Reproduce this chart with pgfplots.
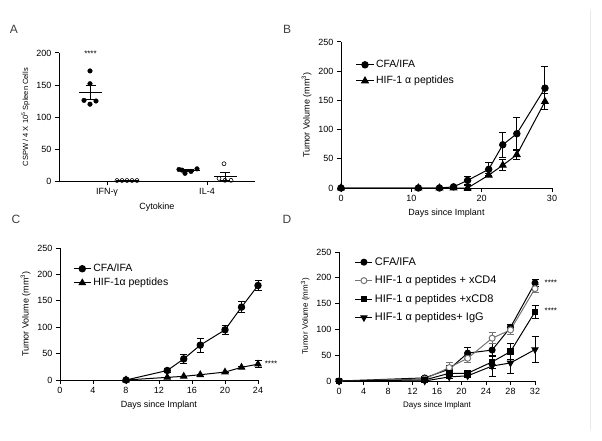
\documentclass[border=0pt]{standalone}
\usepackage{fontspec}
\setmainfont{Liberation Sans}
\usepackage{pgfplots}
\pgfplotsset{compat=1.18}

\pgfplotsset{
  prism/.style={
    scale only axis,
    axis lines=left,
    axis line style={-, line width=1pt},
    tick align=outside,
    major tick length=4pt,
    tick style={black, line width=1pt},
    tick label style={font=\fontsize{9}{10}\selectfont},
    label style={font=\fontsize{9}{10}\selectfont},
    /pgf/number format/assume math mode=true,
    clip=false,
    legend style={draw=none, fill=none, font=\fontsize{10.5}{12}\selectfont,
      row sep=3pt, inner sep=0pt},
    legend cell align=left,
  },
  grp/.style={black, line width=1pt, mark size=3.2pt,
    error bars/y dir=both, error bars/y explicit,
    error bars/error bar style={line width=1pt, solid},
    error bars/error mark options={rotate=90, mark size=3.5pt, line width=1pt, solid}},
}

\begin{document}
\begin{tikzpicture}
\path[use as bounding box] (0pt,0pt) rectangle (602pt,440pt);
\draw[black!8, line width=0.8pt] (590pt,10pt) -- (590pt,430pt);

% panel letters
\node[font=\fontsize{12}{12}\selectfont, text=black!75] at (14pt,411pt) {A};
\node[font=\fontsize{12}{12}\selectfont, text=black!75] at (287pt,411pt) {B};
\node[font=\fontsize{12}{12}\selectfont, text=black!75] at (16pt,221pt) {C};
\node[font=\fontsize{12}{12}\selectfont, text=black!75] at (287pt,221pt) {D};

% ---------- A
\begin{axis}[prism, at={(59pt,259pt)}, anchor=south west, width=196pt, height=128pt,
  xmin=0.52, xmax=2.48, ymin=0, ymax=200, ytick={0,50,...,200},
  xtick={1,2}, xticklabels={IFN-γ, IL-4},
  xlabel={Cytokine},
  ylabel={CSPW / 4 X 10\textsuperscript{5} Spleen Cells},
  ylabel style={font=\fontsize{7.5}{8}\selectfont},
]
\addplot[only marks, mark=*, mark size=2.3pt, black] coordinates {
  (0.83,172) (0.83,152) (0.77,126) (0.83,120) (0.89,125)};
\addplot[only marks, mark=o, mark size=2pt, black, line width=0.6pt] coordinates {
  (1.10,0.8) (1.15,0.8) (1.20,0.8) (1.25,0.8) (1.30,0.8)};
\addplot[only marks, mark=*, mark size=2.3pt, black] coordinates {
  (1.72,18) (1.78,12) (1.84,15) (1.90,19) (1.75,17)};
\addplot[only marks, mark=o, mark size=2pt, black, line width=0.6pt] coordinates {
  (2.17,27) (2.12,4) (2.18,1) (2.24,1)};
% means with SEM
\addplot[grp, only marks, mark=-, mark size=11.5pt,
  error bars/error mark options={rotate=90, mark size=5pt, line width=1pt}] coordinates {
  (0.835,138.6) +- (0,11)
  (1.815,16.2) +- (0,1.4)
  (2.18,7.3) +- (0,6.5)
  (1.20,0.5) +- (0,0)};
\node[font=\fontsize{8}{8}\selectfont] at (axis cs:0.835,199) {****};
\end{axis}

% ---------- B
\begin{axis}[prism, at={(341pt,252pt)}, anchor=south west, width=211pt, height=146pt,
  xmin=0, xmax=30, ymin=0, ymax=250, xtick={0,10,20,30}, ytick={0,50,...,250},
  xlabel={Days since Implant}, ylabel={Tumor Volume (mm\textsuperscript{3})},
  legend style={at={(0.07,0.89)}, anchor=north west}]
\addplot[grp, mark=*] coordinates {
  (0,0) +- (0,0) (11,0) +- (0,0) (14,0) +- (0,0) (16,2) +- (0,1)
  (18,13) +- (0,7) (21,32) +- (0,11) (23,74) +- (0,21) (25,93) +- (0,28)
  (29,171) +- (0,37)};
\addlegendentry{CFA/IFA}
\addplot[grp, mark=triangle*, mark size=3.8pt] coordinates {
  (0,0) +- (0,0) (11,0) +- (0,0) (14,0) +- (0,0) (16,0) +- (0,0)
  (18,0) +- (0,5) (21,22) +- (0,3) (23,39) +- (0,9) (25,57) +- (0,9)
  (29,148) +- (0,14)};
\addlegendentry{HIF-1 α peptides}
\end{axis}

% ---------- C
\begin{axis}[prism, at={(60pt,60pt)}, anchor=south west, width=198pt, height=132pt,
  xmin=0, xmax=24, ymin=0, ymax=250, xtick={0,4,...,24}, ytick={0,50,...,250},
  xlabel={Days since Implant}, ylabel={Tumor Volume (mm\textsuperscript{3})},
  legend style={at={(0.066,0.894)}, anchor=north west, row sep=1pt}]
\addplot[grp, mark=*] coordinates {
  (8,0) +- (0,0) (13,18) +- (0,3) (15,40) +- (0,9) (17,66) +- (0,13)
  (20,95) +- (0,9) (22,138) +- (0,11) (24,179) +- (0,10)};
\addlegendentry{CFA/IFA}
\addplot[grp, mark=triangle*, mark size=3.6pt] coordinates {
  (8,0) +- (0,0) (13,5) +- (0,0) (15,7) +- (0,0) (17,10) +- (0,0)
  (20,15) +- (0,0) (22,24) +- (0,2) (24,30) +- (0,6)};
\addlegendentry{HIF-1α peptides}
\node[font=\fontsize{8}{8}\selectfont, anchor=west] at (axis cs:24.4,31) {****};
\end{axis}

% ---------- D
\begin{axis}[prism, at={(339pt,59pt)}, anchor=south west, width=196pt, height=129pt,
  xmin=0, xmax=32, ymin=0, ymax=250, xtick={0,4,...,32}, ytick={0,50,...,250},
  xlabel={Days since Implant}, ylabel={Tumor Volume (mm\textsuperscript{3})},
  label style={font=\fontsize{8}{9}\selectfont},
  legend style={at={(0.08,0.975)}, anchor=north west, row sep=5pt,
    font=\fontsize{11}{12}\selectfont}]
\addplot[grp, mark=*, mark size=3pt] coordinates {
  (0,0) +- (0,0) (14,6) +- (0,2) (18,23) +- (0,8) (21,54) +- (0,10)
  (25,60) +- (0,12) (28,104) +- (0,6) (32,190) +- (0,7)};
\addlegendentry{CFA/IFA}
\addplot[grp, black!55, mark=*, mark options={fill=white}, mark size=3pt] coordinates {
  (0,0) +- (0,0) (14,4) +- (0,2) (18,26) +- (0,10) (21,44) +- (0,8)
  (25,83) +- (0,11) (28,99) +- (0,8) (32,179) +- (0,8)};
\addlegendentry{HIF-1 α peptides + xCD4}
\addplot[grp, mark=square*, mark size=2.8pt] coordinates {
  (0,0) +- (0,0) (14,2) +- (0,1) (18,15) +- (0,4) (21,15) +- (0,4)
  (25,37) +- (0,12) (28,57) +- (0,15) (32,134) +- (0,13)};
\addlegendentry{HIF-1 α peptides +xCD8}
\addplot[grp, mark=triangle*, mark options={rotate=180}, mark size=3.5pt] coordinates {
  (0,0) +- (0,0) (14,0) +- (0,0) (18,8) +- (0,4) (21,10) +- (0,4)
  (25,29) +- (0,21) (28,35) +- (0,20) (32,61) +- (0,25)};
\addlegendentry{HIF-1 α peptides+ IgG}
\node[font=\fontsize{8}{8}\selectfont, anchor=west] at (axis cs:33,190) {****};
\node[font=\fontsize{8}{8}\selectfont, anchor=west] at (axis cs:33,137) {****};
\end{axis}
\end{tikzpicture}
\end{document}
